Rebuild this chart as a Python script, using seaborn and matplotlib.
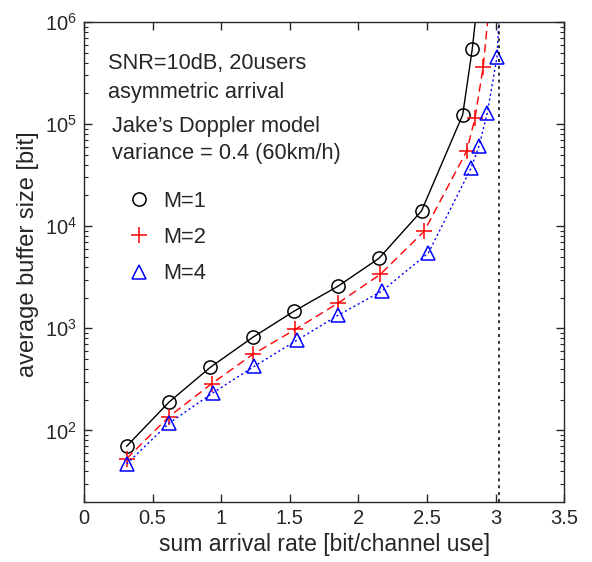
import matplotlib
matplotlib.use('Agg')
import matplotlib.pyplot as plt
import seaborn as sns
import pandas as pd
from matplotlib.lines import Line2D
from matplotlib.ticker import LogLocator, NullFormatter

# Data
rate_m1 = [0.31, 0.62, 0.92, 1.23, 1.53, 1.85, 2.15, 2.46, 2.76, 2.83, 2.89]
buf_m1 = [70, 190, 415, 817, 1470, 2580, 4850, 14100, 123000, 543000, 3.0e6]

rate_m2 = [0.31, 0.62, 0.93, 1.23, 1.54, 1.85, 2.16, 2.48, 2.79, 2.85, 2.91, 2.97]
buf_m2 = [53, 137, 287, 556, 977, 1760, 3380, 8930, 54700, 115000, 365000, 2.5e6]

rate_m4 = [0.31, 0.62, 0.94, 1.24, 1.55, 1.85, 2.17, 2.51, 2.82, 2.88, 2.94, 3.01, 3.03]
buf_m4 = [47, 118, 234, 424, 762, 1340, 2310, 5470, 36800, 61300, 129000, 451000, 1.5e6]

capacity = 3.027

series_labels = ['M=1', 'M=2', 'M=4']

sns.set_style('ticks')
plt.rcParams['font.family'] = ['Liberation Sans', 'DejaVu Sans']

fig = plt.figure(figsize=(5.92, 5.62), dpi=100)
ax = fig.add_axes([0.142, 0.107, 0.811, 0.854])

styles = [
    (rate_m1, buf_m1, 'black', '-', 'o', 9.5),
    (rate_m2, buf_m2, 'red', (0, (6, 3.5)), '+', 11),
    (rate_m4, buf_m4, 'blue', (0, (1.5, 2)), '^', 10),
]

for (x, y, c, ls, mk, ms), lab in zip(styles, series_labels):
    df = pd.DataFrame({'rate': x, 'buffer': y})
    sns.lineplot(data=df, x='rate', y='buffer', ax=ax, color=c, linestyle=ls,
                 linewidth=1.0, marker=mk, markersize=ms, mfc='none', mec=c,
                 mew=1.1, sort=False)

ax.axvline(capacity, color='black', linestyle=(0, (2, 2.5)), linewidth=1.1)

ax.set_yscale('log')
ax.set_xlim(0, 3.5)
ax.set_ylim(20, 1e6)
ax.set_xticks([0, 0.5, 1, 1.5, 2, 2.5, 3, 3.5])
ax.set_xticklabels(['0', '0.5', '1', '1.5', '2', '2.5', '3', '3.5'])
ax.yaxis.set_major_locator(LogLocator(base=10, numticks=10))
ax.yaxis.set_minor_locator(LogLocator(base=10, subs=range(2, 10), numticks=20))
ax.yaxis.set_minor_formatter(NullFormatter())
ax.tick_params(which='both', direction='in', top=True, right=True, labelsize=14.5)
ax.tick_params(which='major', length=6, width=1, pad=5)
ax.tick_params(which='minor', length=3, width=0.8)
for s in ax.spines.values():
    s.set_linewidth(1)

ax.set_xlabel('sum arrival rate [bit/channel use]', fontsize=16.5)
ax.xaxis.set_label_coords(0.5, -0.088)
ax.xaxis.label.set_va('center')
ax.set_ylabel('average buffer size [bit]', fontsize=17)
ax.yaxis.set_label_coords(-0.117, 0.517)
ax.yaxis.label.set_va('center')

note_size = 15.7
ax.text(0.05, 0.9125, 'SNR=10dB, 20users', transform=ax.transAxes,
        fontsize=note_size, va='center')
ax.text(0.05, 0.852, 'asymmetric arrival', transform=ax.transAxes,
        fontsize=note_size, va='center')
ax.text(0.058, 0.783, "Jake\u2019s Doppler model", transform=ax.transAxes,
        fontsize=note_size, va='center')
ax.text(0.058, 0.725, 'variance = 0.4 (60km/h)', transform=ax.transAxes,
        fontsize=note_size, va='center')

handles = [
    Line2D([], [], color='black', marker='o', ls='none', mfc='none', ms=9.5, mew=1.1),
    Line2D([], [], color='red', marker='+', ls='none', ms=11, mew=1.1),
    Line2D([], [], color='blue', marker='^', ls='none', mfc='none', ms=10, mew=1.1),
]
ax.legend(handles, series_labels, loc='upper left', bbox_to_anchor=(0.05, 0.689),
          frameon=False, fontsize=note_size, handlelength=1.0, handletextpad=0.62,
          labelspacing=0.7)

fig.savefig('out.png', dpi=100)
plt.close(fig)
